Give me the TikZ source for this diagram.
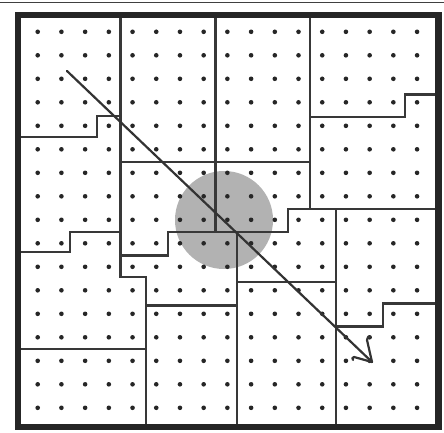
\documentclass[tikz,border=0pt]{standalone}
\begin{document}
\begin{tikzpicture}[x=1pt,y=-1pt,
  region/.style={draw=black!78,line width=2.3pt,line join=miter},
  framec/.style={draw=black!85,line width=6.5pt,line join=miter},
  dotc/.style={fill=black!85},
  disc/.style={fill=black!30},
  arrowline/.style={draw=black!80,line width=2.2pt,line cap=round,line join=round}]
\useasboundingbox (0,0) rectangle (444,433);
\fill[white] (0,0) rectangle (444,433);
% scan line at the very top
\draw[black!75,line width=1.5pt] (0,2.5) -- (444,2.5);
% gray disc
\fill[disc] (224,220) circle (49pt);
% dots
\foreach \i in {0,...,16}{
  \foreach \j in {0,...,16}{
    \fill[dotc] (37.7+23.71*\i,31.8+23.5*\j) circle (2.3pt);
  }
}
% region boundaries
\draw[region] (120.5,15) -- (120.5,277) -- (146,277) -- (146,427);
\draw[region] (215.5,15) -- (215.5,232);
\draw[region] (310,15) -- (310,209);
\draw[region] (17.8,137) -- (97,137) -- (97,116) -- (120.5,116);
\draw[region] (120.5,162) -- (310,162);
\draw[region] (310,117) -- (405,117) -- (405,94.5) -- (438.5,94.5);
\draw[region] (120.5,255.5) -- (168,255.5) -- (168,232) -- (288,232) -- (288,209) -- (438.5,209);
\draw[region] (17.8,252) -- (70,252) -- (70,232) -- (120.5,232);
\draw[region] (237,232) -- (237,427);
\draw[region] (146,305.5) -- (237,305.5);
\draw[region] (237,282) -- (336,282);
\draw[region] (336,209) -- (336,427);
\draw[region] (336,326.5) -- (383,326.5) -- (383,303.5) -- (438.5,303.5);
\draw[region] (17.8,349.3) -- (146,349.3);
% arrow
\coordinate (start) at (67,71);
\coordinate (tip) at (372,362);
\draw[arrowline] (start) -- (tip);
\draw[arrowline] (367,340) .. controls (368,336) and (369,336) .. (370,337);
\draw[arrowline] (367,340) -- (tip) -- (354,357) .. controls (352,357) and (352,359) .. (353,360);
% frame
\draw[framec] (17.8,15) rectangle (438.5,427);
\end{tikzpicture}
\end{document}
